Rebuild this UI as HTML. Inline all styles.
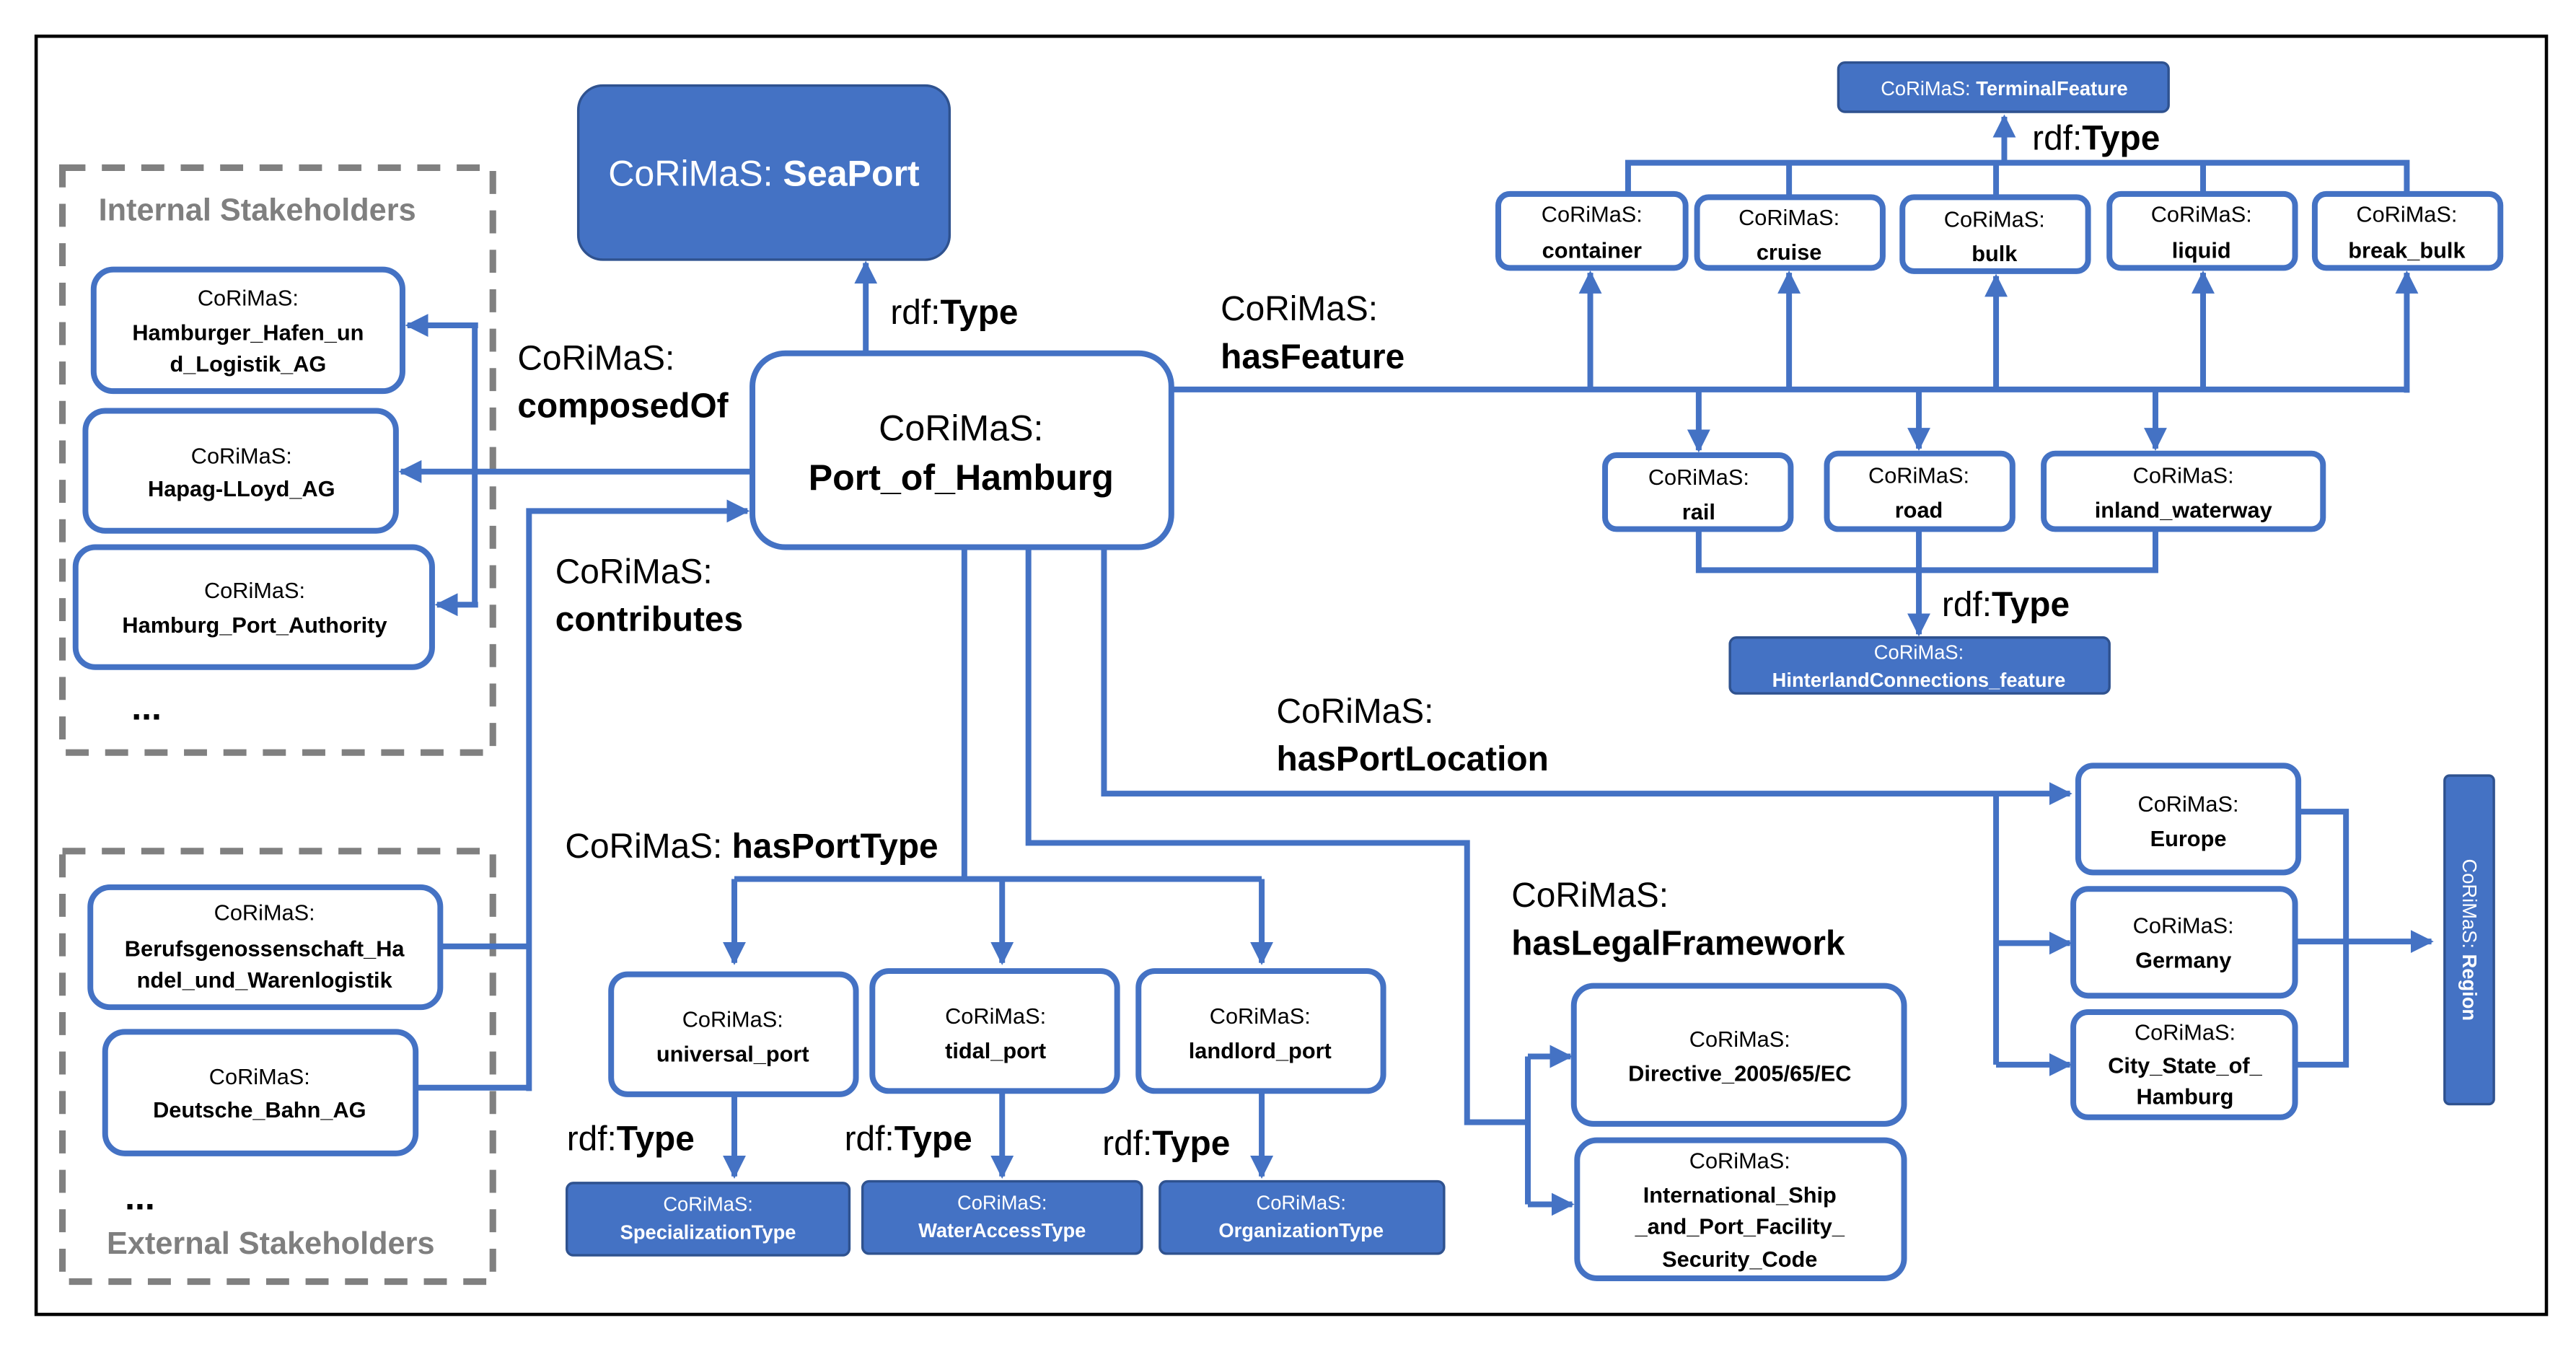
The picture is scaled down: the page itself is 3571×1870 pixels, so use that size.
<!DOCTYPE html>
<html><head><meta charset="utf-8"><style>
html,body{margin:0;padding:0;background:#fff;}
svg{display:block;}
text{font-family:"Liberation Sans Narrow","Liberation Sans",sans-serif;fill:#000;}
.t{font-size:13.5px;text-anchor:middle;}
.b{font-weight:bold;}
.w{fill:#fff;font-size:12px;text-anchor:middle;}
.lbl{font-size:21px;}
.box{fill:#fff;stroke:#4472C4;stroke-width:3.5;}
.fb{fill:#4472C4;stroke:#2F528F;stroke-width:1.5;}
.ln{fill:none;stroke:#4472C4;stroke-width:3.5;}
.gl{font-size:19px;font-weight:bold;fill:#7f7f7f;}
</style></head><body>
<svg width="3571" height="1870" viewBox="0 0 1568 821" xmlns="http://www.w3.org/2000/svg">
<defs>
<marker id="a" viewBox="0 0 10 10" refX="9" refY="5" markerWidth="4" markerHeight="4" orient="auto" markerUnits="strokeWidth"><path d="M0,0 L10,5 L0,10 z" fill="#4472C4"/></marker>
</defs>
<rect x="22" y="22" width="1528" height="778" fill="none" stroke="#000" stroke-width="2"/>
<rect x="38" y="102" width="262" height="356" fill="none" stroke="#808080" stroke-width="4" stroke-dasharray="14,10"/>
<text x="60" y="134" class="gl">Internal Stakeholders</text>
<rect x="38" y="518" width="262" height="262" fill="none" stroke="#808080" stroke-width="4" stroke-dasharray="14,10"/>
<text x="65" y="763" class="gl">External Stakeholders</text>

<rect x="352" y="52" width="226" height="106" rx="15" class="fb"/>
<text x="465" y="113" class="w" style="font-size:22px">CoRiMaS: <tspan class="b">SeaPort</tspan></text>

<rect x="458" y="215" width="255" height="118" rx="20" class="box"/>
<text x="585" y="268" class="t" style="font-size:22px">CoRiMaS:</text>
<text x="585" y="298" class="t b" style="font-size:22px">Port_of_Hamburg</text>

<path d="M527,215 V160" class="ln" marker-end="url(#a)"/>
<text x="542" y="197" class="lbl">rdf:<tspan class="b">Type</tspan></text>

<rect x="57" y="164" width="188" height="74" rx="12" class="box"/>
<text x="151" y="186" class="t">CoRiMaS:</text>
<text x="151" y="207" class="t b">Hamburger_Hafen_un</text>
<text x="151" y="226" class="t b">d_Logistik_AG</text>
<rect x="52" y="250" width="189" height="73" rx="12" class="box"/>
<text x="147" y="282" class="t">CoRiMaS:</text>
<text x="147" y="302" class="t b">Hapag-LLoyd_AG</text>
<rect x="46" y="333" width="217" height="73" rx="12" class="box"/>
<text x="155" y="364" class="t">CoRiMaS:</text>
<text x="155" y="385" class="t b">Hamburg_Port_Authority</text>
<text x="80" y="438" style="font-size:22px;font-weight:bold">...</text>

<path d="M458,287 H244" class="ln" marker-end="url(#a)"/>
<path d="M289,198 V368" class="ln"/>
<path d="M291,198 H248" class="ln" marker-end="url(#a)"/>
<path d="M291,368 H266" class="ln" marker-end="url(#a)"/>
<text x="315" y="225" class="lbl">CoRiMaS:</text>
<text x="315" y="254" class="lbl b">composedOf</text>

<rect x="55" y="540" width="213" height="73" rx="12" class="box"/>
<text x="161" y="560" class="t">CoRiMaS:</text>
<text x="161" y="582" class="t b">Berufsgenossenschaft_Ha</text>
<text x="161" y="601" class="t b">ndel_und_Warenlogistik</text>
<rect x="64" y="628" width="189" height="74" rx="12" class="box"/>
<text x="158" y="660" class="t">CoRiMaS:</text>
<text x="158" y="680" class="t b">Deutsche_Bahn_AG</text>
<text x="76" y="736" style="font-size:22px;font-weight:bold">...</text>

<path d="M268,576 H322 M253,662 H322" class="ln"/>
<path d="M322,664 V311 H455" class="ln" marker-end="url(#a)"/>
<text x="338" y="355" class="lbl">CoRiMaS:</text>
<text x="338" y="384" class="lbl b">contributes</text>

<path d="M713,237 H1465" class="ln"/>
<path d="M968,237 V166" class="ln" marker-end="url(#a)"/>
<path d="M1089,237 V166" class="ln" marker-end="url(#a)"/>
<path d="M1215,237 V168" class="ln" marker-end="url(#a)"/>
<path d="M1341,237 V166" class="ln" marker-end="url(#a)"/>
<path d="M1465,239 V166" class="ln" marker-end="url(#a)"/>
<path d="M1034,237 V274" class="ln" marker-end="url(#a)"/>
<path d="M1168,237 V273" class="ln" marker-end="url(#a)"/>
<path d="M1312,237 V273" class="ln" marker-end="url(#a)"/>
<text x="743" y="195" class="lbl">CoRiMaS:</text>
<text x="743" y="224" class="lbl b">hasFeature</text>

<path d="M991,118 V99 H1465 V118 M1089,120 V99 M1215,120 V99 M1341,118 V99" class="ln"/>
<path d="M1220,99 V71" class="ln" marker-end="url(#a)"/>
<rect x="1119" y="38" width="201" height="30" rx="4" class="fb"/>
<text x="1220" y="58" class="w">CoRiMaS: <tspan class="b">TerminalFeature</tspan></text>
<text x="1237" y="91" class="lbl">rdf:<tspan class="b">Type</tspan></text>

<rect x="912" y="118" width="114" height="45" rx="7" class="box"/>
<text x="969" y="135" class="t">CoRiMaS:</text><text x="969" y="157" class="t b">container</text>
<rect x="1033" y="120" width="113" height="43" rx="7" class="box"/>
<text x="1089" y="137" class="t">CoRiMaS:</text><text x="1089" y="158" class="t b">cruise</text>
<rect x="1158" y="120" width="113" height="45" rx="7" class="box"/>
<text x="1214" y="138" class="t">CoRiMaS:</text><text x="1214" y="159" class="t b">bulk</text>
<rect x="1284" y="118" width="113" height="45" rx="7" class="box"/>
<text x="1340" y="135" class="t">CoRiMaS:</text><text x="1340" y="157" class="t b">liquid</text>
<rect x="1409" y="118" width="113" height="45" rx="7" class="box"/>
<text x="1465" y="135" class="t">CoRiMaS:</text><text x="1465" y="157" class="t b">break_bulk</text>

<rect x="977" y="277" width="113" height="45" rx="7" class="box"/>
<text x="1034" y="295" class="t">CoRiMaS:</text><text x="1034" y="316" class="t b">rail</text>
<rect x="1112" y="276" width="113" height="46" rx="7" class="box"/>
<text x="1168" y="294" class="t">CoRiMaS:</text><text x="1168" y="315" class="t b">road</text>
<rect x="1244" y="276" width="170" height="46" rx="7" class="box"/>
<text x="1329" y="294" class="t">CoRiMaS:</text><text x="1329" y="315" class="t b">inland_waterway</text>
<path d="M1034,322 V347 H1312 V322" class="ln"/>
<path d="M1168,322 V386" class="ln" marker-end="url(#a)"/>
<text x="1182" y="375" class="lbl">rdf:<tspan class="b">Type</tspan></text>
<rect x="1053" y="388" width="231" height="34" rx="4" class="fb"/>
<text x="1168" y="401" class="w">CoRiMaS:</text>
<text x="1168" y="418" class="w b">HinterlandConnections_feature</text>

<path d="M672,333 V483 H1260" class="ln" marker-end="url(#a)"/>
<path d="M1215,483 V648" class="ln"/>
<path d="M1215,574 H1260" class="ln" marker-end="url(#a)"/>
<path d="M1215,648 H1260" class="ln" marker-end="url(#a)"/>
<text x="777" y="440" class="lbl">CoRiMaS:</text>
<text x="777" y="469" class="lbl b">hasPortLocation</text>

<rect x="1265" y="466" width="134" height="65" rx="9" class="box"/>
<text x="1332" y="494" class="t">CoRiMaS:</text><text x="1332" y="515" class="t b">Europe</text>
<rect x="1262" y="541" width="135" height="65" rx="9" class="box"/>
<text x="1329" y="568" class="t">CoRiMaS:</text><text x="1329" y="589" class="t b">Germany</text>
<rect x="1262" y="616" width="135" height="64" rx="9" class="box"/>
<text x="1330" y="633" class="t">CoRiMaS:</text><text x="1330" y="653" class="t b">City_State_of_</text><text x="1330" y="672" class="t b">Hamburg</text>
<path d="M1399,494 H1428 V648 H1397" class="ln"/>
<path d="M1397,573 H1480" class="ln" marker-end="url(#a)"/>
<rect x="1488" y="472" width="30" height="200" rx="3" class="fb"/>
<text x="0" y="0" class="w" transform="translate(1499,572) rotate(90)">CoRiMaS: <tspan class="b">Region</tspan></text>

<path d="M626,333 V513 H893 V683 H930" class="ln"/>
<path d="M930,643 V733" class="ln"/>
<path d="M930,643 H956" class="ln" marker-end="url(#a)"/>
<path d="M930,733 H957" class="ln" marker-end="url(#a)"/>
<text x="920" y="552" class="lbl">CoRiMaS:</text>
<text x="920" y="581" class="lbl b">hasLegalFramework</text>
<rect x="958" y="600" width="201" height="84" rx="12" class="box"/>
<text x="1059" y="637" class="t">CoRiMaS:</text><text x="1059" y="658" class="t b">Directive_2005/65/EC</text>
<rect x="960" y="694" width="199" height="84" rx="12" class="box"/>
<text x="1059" y="711" class="t">CoRiMaS:</text><text x="1059" y="732" class="t b">International_Ship</text>
<text x="1059" y="751" class="t b">_and_Port_Facility_</text><text x="1059" y="771" class="t b">Security_Code</text>

<path d="M587,333 V535 H768" class="ln"/>
<path d="M447,535 H587" class="ln"/>
<path d="M447,535 V586" class="ln" marker-end="url(#a)"/>
<path d="M610,535 V586" class="ln" marker-end="url(#a)"/>
<path d="M768,535 V586" class="ln" marker-end="url(#a)"/>
<text x="344" y="522" class="lbl">CoRiMaS: <tspan class="b">hasPortType</tspan></text>

<rect x="372" y="593" width="149" height="73" rx="10" class="box"/>
<text x="446" y="625" class="t">CoRiMaS:</text><text x="446" y="646" class="t b">universal_port</text>
<rect x="531" y="591" width="149" height="73" rx="10" class="box"/>
<text x="606" y="623" class="t">CoRiMaS:</text><text x="606" y="644" class="t b">tidal_port</text>
<rect x="693" y="591" width="149" height="73" rx="10" class="box"/>
<text x="767" y="623" class="t">CoRiMaS:</text><text x="767" y="644" class="t b">landlord_port</text>

<path d="M447,666 V716" class="ln" marker-end="url(#a)"/>
<path d="M610,664 V716" class="ln" marker-end="url(#a)"/>
<path d="M768,664 V716" class="ln" marker-end="url(#a)"/>
<text x="345" y="700" class="lbl">rdf:<tspan class="b">Type</tspan></text>
<text x="514" y="700" class="lbl">rdf:<tspan class="b">Type</tspan></text>
<text x="671" y="703" class="lbl">rdf:<tspan class="b">Type</tspan></text>

<rect x="345" y="720" width="172" height="44" rx="4" class="fb"/>
<text x="431" y="737" class="w">CoRiMaS:</text><text x="431" y="754" class="w b">SpecializationType</text>
<rect x="525" y="719" width="170" height="44" rx="4" class="fb"/>
<text x="610" y="736" class="w">CoRiMaS:</text><text x="610" y="753" class="w b">WaterAccessType</text>
<rect x="706" y="719" width="173" height="44" rx="4" class="fb"/>
<text x="792" y="736" class="w">CoRiMaS:</text><text x="792" y="753" class="w b">OrganizationType</text>
</svg>
</body></html>
